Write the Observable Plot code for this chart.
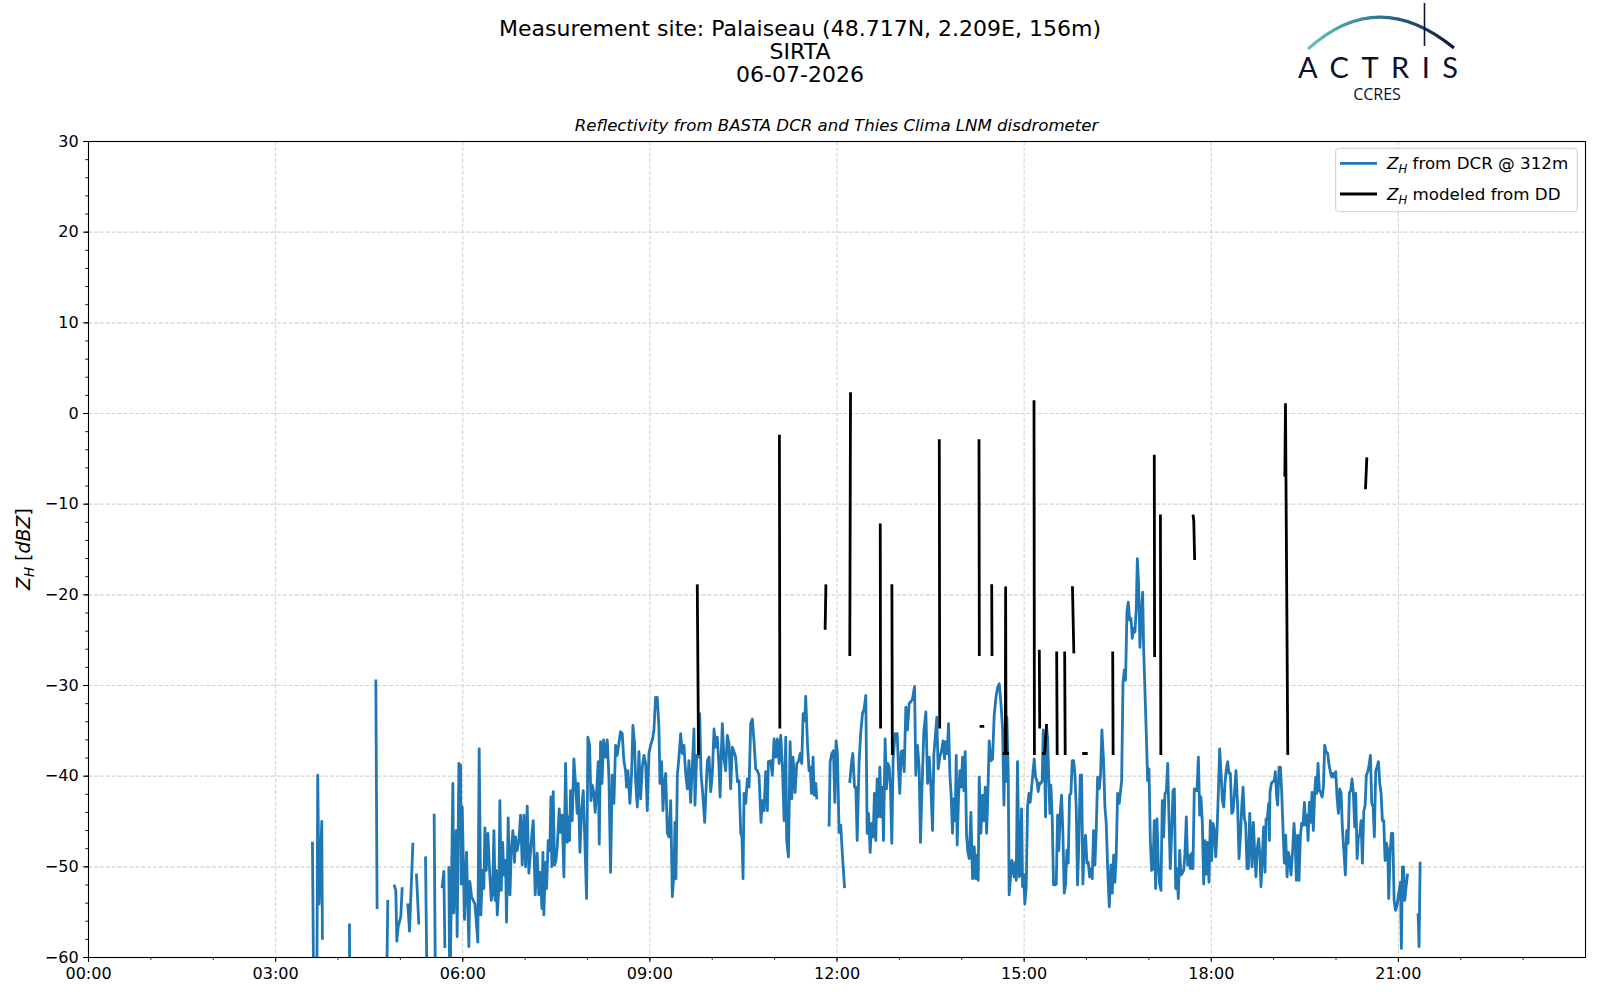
<!DOCTYPE html>
<html>
<head>
<meta charset="utf-8">
<script src="https://cdn.jsdelivr.net/npm/d3@7"></script>
<script src="https://cdn.jsdelivr.net/npm/@observablehq/plot@0.6"></script>
<style>
  html, body { margin: 0; padding: 0; background: #fff; }
  #wrap { position: relative; width: 1600px; height: 1000px; overflow: hidden; font-family: "DejaVu Sans", sans-serif; }
  #chart { position: absolute; left: 0; top: 100px; }
  #overlay { position: absolute; left: 0; top: 0; pointer-events: none; }
</style>
</head>
<body>
<div id="wrap">
  <div id="chart"></div>
  <svg id="overlay" width="1600" height="1000" xmlns="http://www.w3.org/2000/svg">
    <defs>
      <linearGradient id="arcGrad" x1="0" y1="0" x2="1" y2="0">
        <stop offset="0" stop-color="#6cc0bd"/>
        <stop offset="0.45" stop-color="#2f7f9a"/>
        <stop offset="1" stop-color="#10123a"/>
      </linearGradient>
    </defs>
    <g font-family="DejaVu Sans" fill="#000" text-anchor="middle">
      <text x="800" y="35.7" font-size="22">Measurement site: Palaiseau (48.717N, 2.209E, 156m)</text>
      <text x="800" y="58.7" font-size="22">SIRTA</text>
      <text x="800" y="81.7" font-size="22">06-07-2026</text>
      <text x="836.5" y="131.3" font-size="16.6" font-style="italic">Reflectivity from BASTA DCR and Thies Clima LNM disdrometer</text>
    </g>
    <!-- ACTRIS logo -->
    <g>
      <path d="M1308,49 Q1378,-14.4 1454,48" fill="none" stroke="url(#arcGrad)" stroke-width="3.2"/>
      <line x1="1424.5" y1="3" x2="1424.5" y2="46" stroke="#10123a" stroke-width="1.6"/>
      <text x="1298" y="78.3" font-family="Lato, 'Open Sans', sans-serif" font-size="29" fill="#0d0f33" textLength="160" lengthAdjust="spacing">ACTRIS</text>
      <text x="1377" y="100" font-family="'Open Sans', sans-serif" font-size="16" fill="#0d0f33" text-anchor="middle">CCRES</text>
    </g>
    <!-- y label -->
    <g transform="translate(30,549) rotate(-90)" font-family="DejaVu Sans" font-size="19" text-anchor="middle">
      <text><tspan font-style="italic">Z</tspan><tspan font-style="italic" font-size="13.3" dy="3.5">H</tspan><tspan dy="-3.5"> [</tspan><tspan font-style="italic">dBZ</tspan><tspan>]</tspan></text>
    </g>
    <!-- legend -->
    <g font-family="DejaVu Sans" font-size="16.7">
      <rect x="1335.7" y="148.3" width="241.6" height="63.4" rx="3" ry="3" fill="#ffffff" fill-opacity="0.8" stroke="#cccccc" stroke-width="1"/>
      <line x1="1340" y1="163.3" x2="1377" y2="163.3" stroke="#1f77b4" stroke-width="2.8"/>
      <line x1="1340" y1="194" x2="1377" y2="194" stroke="#000" stroke-width="2.8"/>
      <text x="1387" y="169.3"><tspan font-style="italic">Z</tspan><tspan font-style="italic" font-size="11.7" dy="3.5">H</tspan><tspan dy="-3.5"> from DCR @ 312m</tspan></text>
      <text x="1387" y="200"><tspan font-style="italic">Z</tspan><tspan font-style="italic" font-size="11.7" dy="3.5">H</tspan><tspan dy="-3.5"> modeled from DD</tspan></text>
    </g>
  </svg>
</div>
<script>
// ---------- data (time in minutes after midnight, reflectivity in dBZ; null = no data) ----------
const dcrMinutes = [
  215.4,216.7,219.6,220.5,221.8,224.4,225.0,225.5,
  251.0,251.4,252.0,
  276.4,277.6,278.0,
  286.6,287.9,288.5,
  294.3,295.6,296.6,297.9,300.4,301.7,302.5,
  307.2,308.8,312.0,313.0,
  315.5,317.7,318.5,
  324.2,325.8,326.5,
  332.5,333.8,334.5,
  340.2,341.8,342.8,343.5,
  346.6,347.6,350.5,351.4,353.7,354.6,356.3,357.9,358.5,359.5,361.7,363.6,365.9,366.8,368.5,371.7,374.5,375.8,377.4,379.0,
  380.3,381.3,382.6,384.2,385.8,387.4,388.7,390.0,391.2,392.2,393.2,394.8,395.7,397.0,398.3,399.6,401.2,402.1,403.7,405.4,
  406.6,408.2,409.8,410.8,412.4,414.0,415.6,417.2,418.8,420.4,422.0,423.6,
  426.8,427.8,429.7,431.6,433.2,434.8,436.1,437.1,438.0,439.6,440.6,442.2,443.8,444.8,445.7,447.0,448.3,449.6,450.9,452.8,
  454.1,455.7,457.3,458.9,460.5,461.5,462.7,463.7,465.3,466.9,468.5,470.1,471.1,472.7,474.3,475.9,477.2,479.1,480.4,482.0,
  483.3,484.6,486.2,487.4,488.7,490.3,491.3,492.6,493.9,495.5,497.4,499.0,500.6,502.2,503.8,505.4,507.0,508.6,510.2,511.8,
  513.4,515.0,516.6,517.6,518.9,520.8,522.4,523.7,525.3,526.3,527.9,529.5,531.1,532.7,534.3,535.9,537.5,539.1,540.7,542.6,
  543.9,545.5,547.1,548.7,549.7,551.3,552.6,553.6,555.2,556.8,558.4,560.0,561.6,563.2,564.1,565.1,566.4,568.0,569.6,571.2,
  572.8,574.4,576.0,577.6,579.2,580.8,582.4,583.4,585.0,586.6,587.9,589.2,590.8,592.7,594.0,595.3,596.9,598.5,600.1,601.7,
  603.3,604.9,606.5,607.5,608.7,609.7,611.3,612.9,614.5,616.1,617.7,619.3,620.9,622.5,624.2,625.8,627.4,628.6,629.6,630.6,
  632.2,633.8,635.4,637.0,638.6,640.2,641.8,643.4,645.0,
  646.9,648.2,649.8,651.4,653.0,654.0,656.2,657.8,659.5,661.1,662.7,664.3,665.9,667.5,669.1,670.7,671.6,673.3,674.9,676.5,
  677.7,679.7,681.3,682.9,684.5,686.1,687.4,689.0,689.9,691.5,693.1,694.4,695.4,697.0,698.0,699.6,700.5,701.0,
  712.4,713.4,715.0,716.6,717.9,719.1,720.4,722.0,723.6,725.2,727.2,728.0,
  732.3,733.9,735.2,736.8,738.1,739.4,741.3,742.9,744.5,746.1,747.7,749.0,750.3,751.9,753.2,754.8,756.0,757.3,758.6,759.9,
  761.2,762.5,763.7,764.7,766.3,767.6,768.9,770.2,771.4,772.7,774.0,775.9,777.9,779.1,780.4,781.7,783.0,784.6,786.2,787.8,
  789.4,791.0,792.6,794.6,795.8,797.4,799.0,800.3,801.6,803.5,805.5,807.1,808.7,810.3,811.9,813.2,814.4,816.0,817.3,818.9,
  820.5,822.1,823.4,824.7,826.0,827.3,828.6,829.8,831.1,832.4,833.7,834.7,835.6,836.9,838.2,839.5,840.8,842.0,843.3,844.6,
  845.9,847.2,848.8,850.4,852.0,853.3,854.6,855.8,856.8,858.4,860.0,861.3,862.6,863.9,865.1,866.4,868.0,869.6,871.2,872.9,
  874.5,876.1,877.7,879.3,880.6,881.8,
  882.1,883.4,884.7,885.6,888.2,890.4,891.4,892.4,893.6,895.3,896.2,897.5,898.5,899.4,900.7,902.0,903.3,904.6,905.8,907.1,
  908.4,909.7,911.0,912.3,913.5,914.8,916.1,917.4,918.4,919.6,920.6,921.6,922.5,923.8,924.8,925.7,927.0,928.3,929.6,930.9,
  932.2,933.4,934.7,936.0,937.3,938.6,939.9,941.1,942.4,943.7,945.0,946.3,947.6,948.8,950.1,951.4,952.7,954.0,955.3,956.5,
  957.8,959.1,960.4,961.7,963.0,964.2,965.5,966.8,968.1,969.4,970.7,972.3,973.5,974.8,976.4,977.7,979.0,980.3,981.9,983.5,
  984.8,986.1,987.3,988.6,989.9,991.5,992.5,993.8,995.1,996.3,997.6,998.9,1000.2,1001.5,1002.8,1004.0,1005.3,1006.6,1007.9,1008.9,
  1010.1,1011.4,1012.7,1014.0,1015.0,1016.2,1017.5,1018.8,1020.1,1021.4,1022.6,1023.9,1025.2,1026.5,1027.8,1029.1,1030.3,1031.6,1032.9,1034.2,
  1035.5,1036.8,1038.1,1039.3,1040.6,1041.9,1043.2,1044.5,1045.8,1047.0,1048.3,1049.6,1050.9,1052.2,1053.5,1054.7,1056.0,1057.3,1058.6,1059.9,
  1061.2,1062.4,1063.7,1065.0,1066.3,1067.6,1068.9,1070.1,1071.4,1072.7,1074.0,1075.3,1076.6,1077.8,1079.1,1080.4,1081.7,1083.0,1084.3,1085.5,
  1086.8,1088.1,1089.4,1090.7,1092.0,1093.2,1094.5,1095.8,1097.1,1098.4,1099.7,1100.9,1102.2,1103.8,1105.4,1106.7,1108.0,1109.3,1110.6,1111.9,
  1113.1,1114.4,1115.7,1117.0,
  1119.2,1120.5,1121.7,1123.0,1124.3,1125.6,1126.9,1127.8,1129.1,1130.4,1131.7,1132.7,1133.9,1135.2,1135.9,1136.5,1137.8,1139.1,1140.7,1141.6,
  1142.9,1143.9,1145.2,1146.5,1147.7,1149.3,1150.3,1151.6,1152.9,1154.2,1155.4,1156.7,1158.3,1159.6,1160.9,1161.9,1163.1,1164.4,1165.7,1167.0,
  1168.3,1169.6,1170.8,1172.1,1173.1,1174.4,1175.7,1176.9,1178.2,1179.5,1180.5,1181.4,1182.7,1184.0,1185.3,1186.6,1187.9,1189.1,1190.4,1192.0,
  1193.3,1194.6,1195.9,1197.2,1198.4,1199.7,1201.0,1202.3,1203.6,1204.9,1206.1,1207.7,1209.0,1210.3,1211.6,1212.9,1214.2,1215.4,1216.7,1218.0,
  1219.0,1220.3,1221.5,1222.8,1224.1,1225.4,1226.7,1228.0,1229.2,1230.5,1231.8,1233.1,1234.4,1235.7,1236.9,1238.2,1239.5,1240.8,1242.1,1243.4,
  1244.6,1245.9,1247.2,1248.5,1249.8,1250.7,1252.0,1253.3,1254.6,1255.9,1257.2,1258.4,1262.0,1262.9,1263.9,1264.9,1266.1,1267.4,1268.7,1269.5,
  1279.0,1279.9,1280.9
];
const dcrValues = [
  -47.4,-65,-65,-39.9,-54.1,-45.0,-57.9,null,
  -56.4,-65,null,
  -29.5,-54.5,null,
  -65,-53.8,null,
  -52.1,-52.6,-58.2,-56.6,-55.5,-52.4,null,
  -54.2,-57.1,-47.5,null,
  -50.9,-56.2,null,
  -49.0,-65,null,
  -44.3,-65,null,
  -52.2,-50.5,-58.8,null,
  -50.1,-65,-40.8,-55.1,-46.0,-57.7,-38.6,-38.8,-51.9,-43.4,-55.8,-48.4,-58.8,-51.6,-53.3,-54.1,-58.3,-37.0,-55.3,-50.4,
  -52.4,-45.7,-50.4,-46.3,-50.4,-53.7,-52.9,-46.0,-53.7,-50.4,-55.3,-52.2,-42.7,-52.6,-47.3,-50.9,-49.3,-56.1,-44.6,-53.1,
  -48.5,-46.0,-49.5,-46.7,-48.2,-47.1,-44.3,-49.8,-44.3,-50.0,-43.3,-50.7,
  -46.0,-44.9,-53.1,-48.5,-53.1,-50.6,-54.6,-48.4,-55.3,-49.5,-52.4,-47.1,-48.2,-42.3,-50.0,-41.7,-49.8,-49.3,-47.8,-43.6,
  -46.2,-44.3,-51.1,-38.6,-47.3,-44.5,-47.1,-41.6,-44.9,-38.1,-40.8,-44.1,-40.8,-48.4,-43.8,-41.6,-46.2,-53.5,-35.7,-36.6,
  -42.7,-41.0,-41.9,-44.0,-41.9,-38.4,-47.5,-36.2,-40.8,-36.0,-37.9,-36.0,-40.1,-50.6,-39.9,-43.0,-36.6,-37.7,-36.4,-35.1,
  -35.3,-38.3,-39.4,-41.2,-39.4,-43.0,-39.7,-34.4,-36.4,-40.5,-43.4,-37.3,-42.5,-39.0,-37.7,-38.6,-43.8,-37.5,-36.6,-35.9,
  -34.9,-31.3,-31.3,-34.6,-40.8,-38.4,-43.8,-41.2,-39.7,-46.3,-46.7,-42.7,-53.3,-50.7,-45.1,-51.3,-39.9,-37.9,-35.3,-37.5,
  -36.6,-39.7,-41.4,-38.3,-42.9,-39.0,-34.8,-43.2,-37.7,-37.9,-33.1,-39.7,-41.9,-45.1,-41.6,-38.3,-37.9,-41.7,-39.7,-34.8,
  -36.8,-35.7,-39.0,-42.3,-37.5,-34.2,-38.1,-39.4,-35.5,-36.4,-41.4,-36.8,-37.3,-37.9,-40.6,-40.5,-46.3,-46.7,-51.3,-41.9,
  -43.0,-40.3,-41.2,-34.2,-33.7,-36.2,-39.2,-39.4,-39.9,
  -45.1,-42.7,-43.8,-39.5,-43.8,-38.4,-38.3,-39.9,-35.9,-37.9,-35.9,-38.6,-35.5,-39.0,-44.9,-35.7,-47.1,-48.9,-36.2,-42.5,
  -37.9,-41.8,-38.6,-38.4,-37.5,-38.6,-33.1,-33.9,-31.2,-36.2,-39.4,-39.0,-41.9,-37.9,-42.1,-40.8,-42.4,null,
  -45.4,-38.4,-37.5,-37.2,-42.9,-36.1,-37.5,-46.2,-45.4,-48.7,-52.2,null,
  -40.6,-38.6,-37.5,-41.2,-41.2,-47.1,-38.3,-35.1,-33.1,-32.6,-31.1,-46.3,-44.1,-48.4,-45.2,-46.7,-41.9,-47.1,-40.3,-44.5,
  -39.0,-44.5,-41.2,-47.1,-35.9,-41.4,-38.6,-39.0,-41.2,-47.4,-38.1,-35.3,-35.3,-39.0,-41.9,-37.3,-37.2,-39.5,-32.4,-34.9,
  -32.0,-31.8,-31.5,-30.1,-39.9,-36.6,-39.0,-47.3,-41.9,-35.1,-32.9,-40.8,-37.9,-41.2,-46.0,-37.5,-35.9,-33.5,-39.2,-37.9,
  -37.2,-36.1,-38.1,-36.2,-37.5,-34.2,-39.9,-42.1,-46.3,-42.5,-44.9,-37.7,-47.6,-42.3,-39.4,-41.2,-37.9,-41.6,-37.3,-46.5,
  -48.4,-49.1,-44.0,-51.3,-47.8,-51.3,-48.7,-51.5,-40.1,-46.3,-42.1,-44.9,-41.2,-46.3,-42.1,-36.1,-38.3,-38.1,-33.3,-31.3,
  -30.2,-29.8,-32.0,-34.8,-43.2,-34.9,
  -40.6,-33.5,-39.7,-53.1,-49.3,-51.1,-49.5,-51.5,-38.4,-51.1,-50.8,-43.6,-52.2,-50.8,-54.1,-52.2,-43.4,-41.9,-42.9,-41.4,
  -39.7,-38.1,-40.1,-40.5,-41.7,-40.8,-40.8,-40.5,-34.9,-37.5,-44.5,-34.6,-35.7,-40.5,-44.1,-41.0,-44.5,-52.0,-52.0,-51.9,
  -44.3,-48.2,-44.1,-42.1,-46.3,-52.9,-51.9,-48.2,-49.6,-42.1,-41.9,-38.3,-38.3,-39.7,-43.4,-52.0,-47.1,-39.9,-39.9,-51.9,
  -47.6,-46.5,-49.6,-49.5,-51.1,-50.2,-51.3,-46.0,-49.8,-45.8,-40.1,-41.4,-39.9,-34.9,-38.3,-43.4,-45.2,-50.0,-54.4,-49.8,
  -52.9,-48.7,-51.7,-48.7,-41.9,-43.0,-41.9,-40.5,-29.8,-28.3,-29.4,-21.9,-20.8,-22.8,-22.6,-24.8,-23.7,-24.1,-21.4,-16.0,
  -18.8,-25.8,-22.1,-19.7,-26.1,-30.5,-35.3,-40.5,-39.2,-47.1,-50.4,-50.2,-44.9,-52.4,-44.7,-49.8,-51.9,-52.6,-42.7,-46.7,
  -41.9,-41.7,-38.6,-44.5,-50.2,-46.3,-41.6,-41.4,-52.4,-50.2,-53.5,-48.2,-50.9,-50.7,-50.4,-48.5,-44.5,-49.8,-48.7,-50.2,
  -48.5,-50.2,-41.4,-41.6,-41.6,-37.9,-44.3,-42.3,-45.1,-51.9,-47.1,-50.8,-47.3,-51.7,-44.9,-49.3,-45.2,-46.0,-48.9,-46.3,
  -41.9,-37.0,-39.7,-42.7,-43.4,-40.8,-39.2,-38.4,-39.7,-39.7,-44.1,-43.9,-42.1,-39.4,-43.4,-49.1,-46.7,-43.4,-41.2,-44.7,
  -45.2,-50.2,-50.2,-44.1,
  -50.0,-45.1,-48.2,-51.1,-48.0,-46.9,-48.9,-52.2,-48.9,-45.6,-50.6,-44.7,-44.7,-43.0,-47.1,-41.8,-40.8,-40.6,-40.5,-39.5,
  -42.3,-43.2,-39.0,-39.0,-41.6,-46.7,-49.6,-46.5,-51.1,-48.4,-49.1,-50.9,-48.2,-45.2,-47.8,-51.5,-46.5,-51.5,-46.7,-45.2,
  -45.4,-42.9,-45.4,-44.3,-47.1,-42.9,-45.1,-41.8,-46.0,-41.8,-40.1,-41.9,-38.6,-41.6,-41.8,-42.3,-41.2,-36.6,-37.3,-37.5,
  -38.8,-39.5,-40.1,-39.7,-40.1,-39.5,-42.3,-44.1,-41.4,-41.9,-45.6,-48.5,-50.9,-46.0,-47.4,-41.8,-41.6,-40.3,-41.9,-45.6,
  -41.9,-49.1,-46.7,-46.5,-44.9,-49.6,-43.9,-43.2,-39.9,-39.5,-38.8,-37.7,-43.0,-43.4,-46.7,-39.4,-39.0,-38.4,-40.8,-41.9,
  -44.9,-44.9,-49.3,-47.4,-48.2,-53.5,-48.5,-46.3,-46.3,-53.7,-54.8,-54.4,-51.7,-59.0,-50.0,-50.0,-53.7,-52.2,-50.9,null,
  -55.3,-58.8,-49.6
];
const ddMinutes = [
  585.6,586.8,587.0,
  664.6,665.0,665.5,
  708.6,709.3,709.8,
  732.3,733.0,733.5,
  761.6,761.9,762.3,
  772.8,773.2,773.6,
  818.4,818.8,819.2,
  856.6,856.9,857.3,
  858.5,860.3,860.6,
  868.8,869.1,869.5,
  880.8,881.9,882.2,882.6,884.0,884.4,
  909.5,909.9,910.3,
  914.6,915.0,915.4,
  918.6,919.8,921.5,921.9,
  931.3,931.8,932.2,
  939.0,939.5,939.9,
  946.5,947.8,948.2,
  957.2,959.8,960.2,
  985.2,985.6,986.0,
  1025.2,1025.5,1025.9,
  1031.1,1031.5,1031.9,
  1062.6,1063.2,1064.0,1064.4,
  1150.8,1151.4,1153.6,1154.0,
  1228.4,1229.6
];
const ddValues = [
  -19.0,-37.5,null,
  -2.5,-34.6,null,
  -23.7,-19.0,null,
  -26.6,2.2,null,
  -12.3,-34.6,null,
  -19.0,-37.5,null,
  -3.0,-34.6,null,
  -3.0,-26.6,null,
  -34.5,-34.5,null,
  -19.0,-26.6,null,
  -37.5,-37.5,-19.2,-37.5,-37.5,null,
  1.3,-37.5,null,
  -26.2,-34.6,null,
  -37.5,-37.5,-34.4,null,
  -26.4,-37.5,null,
  -26.4,-37.5,null,
  -19.2,-26.3,null,
  -37.5,-37.5,null,
  -26.4,-37.5,null,
  -4.7,-26.7,null,
  -11.3,-37.5,null,
  -11.3,-11.9,-16.0,null,
  -6.8,1.0,-37.5,null,
  -8.2,-5.0
];
const majorHours = [0, 3, 6, 9, 12, 15, 18, 21];
const minorHours = d3.range(0, 24);
const yMajor = [-60, -50, -40, -30, -20, -10, 0, 10, 20, 30];
const yMinor = d3.range(-60, 31, 2);

// ---------- build ----------
const T0 = Date.UTC(2026, 6, 6);
const at = m => new Date(T0 + m * 60000);
const dcr = dcrMinutes.map((m, i) => ({t: at(m), z: dcrValues[i]}));
const dd = ddMinutes.map((m, i) => ({t: at(m), z: ddValues[i]}));
const majT = majorHours.map(h => at(h * 60));
const minT = minorHours.map(h => at(h * 60));
const fmt = d3.utcFormat("%H:%M");
const gridStyle = {stroke: "#d4d4d4", strokeOpacity: 1, strokeWidth: 1.1, strokeDasharray: "4.1,1.8"};

const chart = Plot.plot({
  width: 1600,
  height: 900,
  marginLeft: 88,
  marginRight: 15,
  marginTop: 41,
  marginBottom: 43,
  style: {fontFamily: "DejaVu Sans", fontSize: "16px", color: "#000", background: "transparent", overflow: "visible"},
  x: {type: "utc", domain: [at(0), at(1439.99)]},
  y: {domain: [-60, 30]},
  marks: [
    Plot.gridX(majT, gridStyle),
    Plot.gridY(yMajor, gridStyle),
    Plot.line(dcr, {x: "t", y: "z", stroke: "#1f77b4", strokeWidth: 2.8, strokeLinejoin: "round", strokeLinecap: "square", clip: true}),
    Plot.line(dd, {x: "t", y: "z", stroke: "#000000", strokeWidth: 2.8, strokeLinejoin: "round", strokeLinecap: "square", clip: true}),
    Plot.frame({stroke: "#000", strokeWidth: 1.1}),
    Plot.axisX(minT, {tickSize: 2.8, tickFormat: () => "", label: null, strokeWidth: 0.9}),
    Plot.axisX(majT, {tickSize: 4.9, tickPadding: 5, tickFormat: fmt, label: null, fontSize: 16, strokeWidth: 1.1}),
    Plot.axisY(yMinor, {tickSize: 2.8, tickFormat: () => "", label: null, strokeWidth: 0.9}),
    Plot.axisY(yMajor, {tickSize: 4.9, tickPadding: 5, label: null, fontSize: 16, strokeWidth: 1.1})
  ]
});
document.getElementById("chart").appendChild(chart);
</script>
</body>
</html>
